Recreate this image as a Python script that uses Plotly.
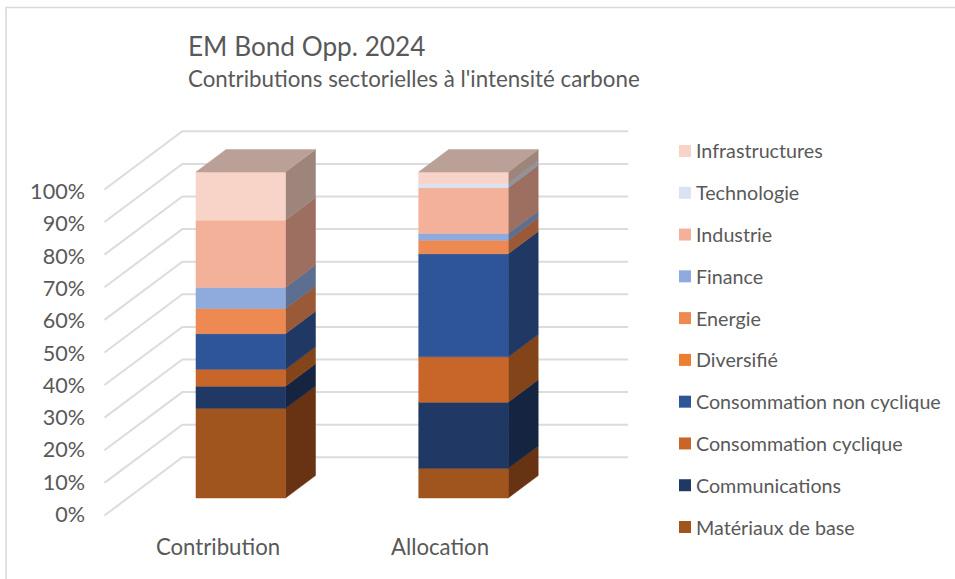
import plotly.graph_objects as go

W, H = 955, 579

# Stacked shares, in percent, bottom to top
categories = ["Contribution", "Allocation"]
sectors = ["Matériaux de base", "Communications", "Consommation cyclique",
           "Consommation non cyclique", "Diversifié", "Energie", "Finance",
           "Industrie", "Technologie", "Infrastructures"]
contribution = [27.5, 6.8, 5.2, 10.9, 0, 7.7, 6.5, 20.6, 0, 14.8]
allocation = [9.1, 20.3, 13.9, 31.6, 0, 4.2, 2.0, 14.1, 1.3, 3.5]
percent_ticks = list(range(0, 101, 10))

front_colors = ["#A0541E", "#1F3864", "#C8662A", "#2E5597", "#ED7D31",
                "#EE8952", "#8FAADC", "#F4B19A", "#DAE3F3", "#F8D3C7"]
side_colors = ["#673312", "#142441", "#84441A", "#1F3864", "#96481A",
               "#9B5A37", "#5D6F90", "#9C6F60", "#8E949E", "#9E857C"]
top_colors = ["#7A4A2A", "#3A4A6A", "#A06A48", "#4A6A9A", "#B07048",
              "#B98A70", "#8A9CB8", "#BBA097", "#B0B6C2", "#BBA097"]

TEXT_COLOR = "#595959"

# Axis scales: pixels per category and per percentage point
PX_PER_CAT = 222.7
PX_PER_PCT = 3.26
CAT0_PX = 240.75
BASE_PX = 498.0

# Oblique projection: one unit of depth equals the depth of a column
DEPTH_X = 30.0 / PX_PER_CAT
DEPTH_Y = 22.4 / PX_PER_PCT
HALF_BAR = 0.201
WALL_FRONT, WALL_BACK = -0.78, 1.817
WALL_LEFT, WALL_RIGHT = -0.507, 1.495


def project(x, pct, depth):
    return x + depth * DEPTH_X, pct + depth * DEPTH_Y


def polygon(corners, color):
    pts = [project(*c) for c in corners]
    pts.append(pts[0])
    return go.Scatter(x=[p[0] for p in pts], y=[p[1] for p in pts],
                      mode="lines", fill="toself", fillcolor=color,
                      line=dict(color=color, width=0.5),
                      hoverinfo="skip", showlegend=False)


fig = go.Figure()

# Side wall and back wall gridlines
for tick in percent_ticks:
    pts = [project(WALL_LEFT, tick, WALL_FRONT),
           project(WALL_LEFT, tick, WALL_BACK),
           project(WALL_RIGHT, tick, WALL_BACK)]
    fig.add_trace(go.Scatter(x=[p[0] for p in pts], y=[p[1] for p in pts],
                             mode="lines", line=dict(color="#DCDCDC", width=2),
                             hoverinfo="skip", showlegend=False))

# Columns: side face, front face, then the cap on the last non-empty segment
for pos, values in enumerate([contribution, allocation]):
    left, right = pos - HALF_BAR, pos + HALF_BAR
    bottom = 0.0
    for i, value in enumerate(values):
        if value <= 0:
            continue
        top = bottom + value
        fig.add_trace(polygon([(right, bottom, 0), (right, bottom, 1),
                               (right, top, 1), (right, top, 0)], side_colors[i]))
        fig.add_trace(polygon([(left, bottom, 0), (right, bottom, 0),
                               (right, top, 0), (left, top, 0)], front_colors[i]))
        bottom = top
        last = i
    fig.add_trace(polygon([(left, bottom, 0), (right, bottom, 0),
                           (right, bottom, 1), (left, bottom, 1)], top_colors[last]))

# Hidden trace that brings the outer tick-label axes to life
fig.add_trace(go.Scatter(x=[0, 1], y=[0, 0], xaxis="x2", yaxis="y2",
                         mode="markers", marker=dict(opacity=0),
                         hoverinfo="skip", showlegend=False))

# Key swatches on their own category axis, top-down from the last sector
fig.add_trace(go.Scatter(x=[0] * len(sectors), y=sectors, xaxis="x3", yaxis="y3",
                         mode="markers",
                         marker=dict(symbol="square", size=12, color=front_colors),
                         cliponaxis=False, hoverinfo="skip", showlegend=False))

key_labels = [dict(text=name, x=0, y=name, xref="x3", yref="y3",
                   xanchor="left", yanchor="middle", showarrow=False,
                   xshift=9, yshift=0,
                   font=dict(size=19.7, color=TEXT_COLOR)) for name in sectors]

TICK_ZERO_PX, TICK_HUNDRED_PX = 514.5, 191.5
tick_per_pct = (TICK_ZERO_PX - TICK_HUNDRED_PX) / 100
LABEL_CAT0_PX, LABEL_CAT1_PX = 218.0, 440.0
label_per_cat = LABEL_CAT1_PX - LABEL_CAT0_PX

fig.update_layout(
    width=W, height=H,
    margin=dict(l=0, r=0, t=0, b=0),
    paper_bgcolor="white", plot_bgcolor="rgba(0,0,0,0)",
    font=dict(family="Lato", color=TEXT_COLOR, size=20),
    showlegend=False,
    title=dict(text="EM Bond Opp. 2024", font=dict(size=26.2, color=TEXT_COLOR),
               x=188 / W, xanchor="left", y=1 - 47 / H, yanchor="middle"),
    annotations=[dict(text="Contributions sectorielles à l'intensité carbone",
                      xref="paper", yref="paper", x=188 / W, y=1 - 78.5 / H,
                      xanchor="left", yanchor="middle", showarrow=False, xshift=-2,
                      font=dict(size=22.3, color=TEXT_COLOR))] + key_labels,
    shapes=[dict(type="rect", xref="paper", yref="paper",
                 x0=6 / W, x1=1.01, y0=-0.01, y1=1 - 7.5 / H,
                 line=dict(color="#D9D9D9", width=1.5), fillcolor="rgba(0,0,0,0)",
                 layer="below")],
    xaxis=dict(range=[-CAT0_PX / PX_PER_CAT, (W - CAT0_PX) / PX_PER_CAT],
               domain=[0, 1], visible=False, fixedrange=True),
    yaxis=dict(range=[(BASE_PX - H) / PX_PER_PCT, BASE_PX / PX_PER_PCT],
               domain=[0, 1], visible=False, fixedrange=True),
    xaxis2=dict(overlaying="x", anchor="free", position=1 - 531.5 / H, side="bottom",
                range=[-LABEL_CAT0_PX / label_per_cat, (W - LABEL_CAT0_PX) / label_per_cat],
                tickmode="array", tickvals=[0, 1], ticktext=categories,
                showgrid=False, zeroline=False, showline=False, ticks="",
                tickfont=dict(size=22.2, color=TEXT_COLOR), fixedrange=True),
    yaxis2=dict(overlaying="y", anchor="free", position=85 / W, side="left",
                range=[(TICK_ZERO_PX - H) / tick_per_pct, TICK_ZERO_PX / tick_per_pct],
                tickmode="array", tickvals=percent_ticks,
                ticktext=[f"{t}%" for t in percent_ticks],
                showgrid=False, zeroline=False, showline=False, ticks="",
                tickfont=dict(size=21.6, color=TEXT_COLOR), fixedrange=True),
    xaxis3=dict(domain=[685 / W, 1], range=[0, 1], anchor="y3",
                visible=False, fixedrange=True),
    yaxis3=dict(domain=[(H - 547.9) / H, (H - 130.1) / H], anchor="x3",
                type="category", categoryorder="array", categoryarray=sectors,
                range=[-0.5, 9.5], visible=False, fixedrange=True),
)

fig.write_html("out.html", config=dict(displayModeBar=False))
